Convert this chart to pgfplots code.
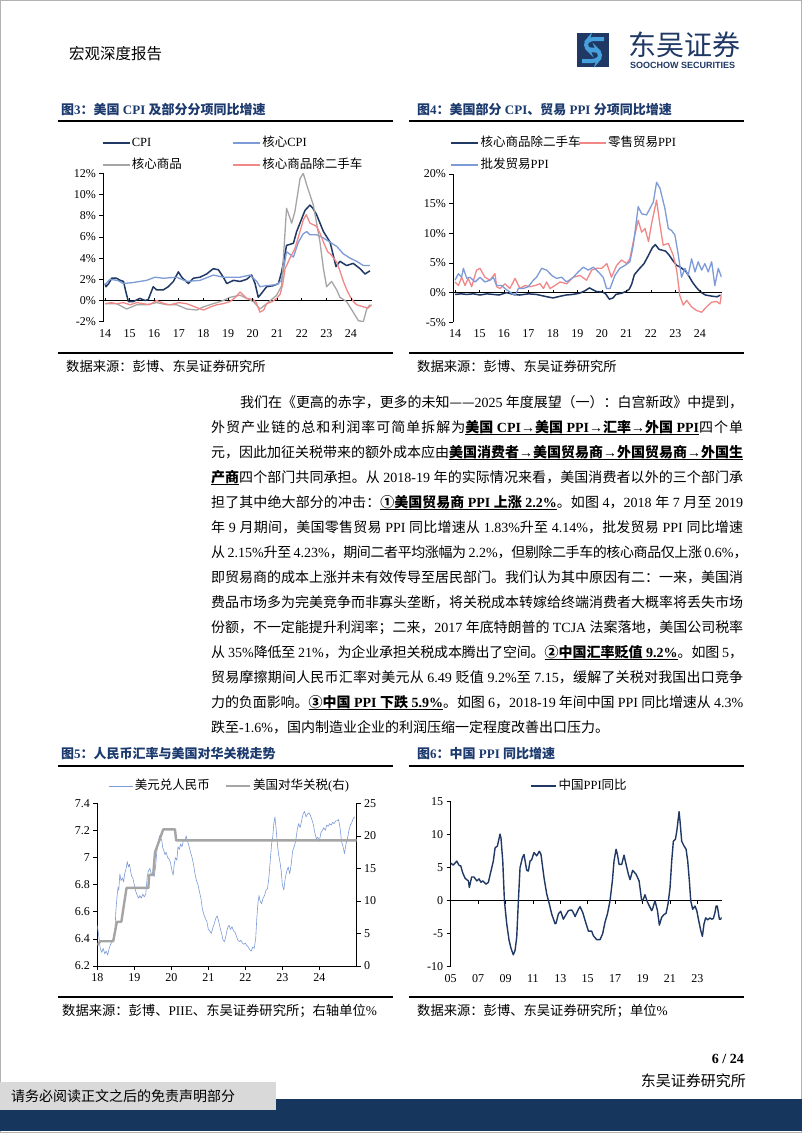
\documentclass[border=0pt]{standalone}
\usepackage{fontspec}
\setmainfont{Liberation Serif}
\newfontfamily\cjk{Noto Sans CJK SC}
\newfontfamily\sansf{Liberation Sans}
\usepackage{pgfplots}
\pgfplotsset{compat=1.18}

% switch CJK characters to the CJK font
\XeTeXinterchartokenstate=1
\newcount\cjkc
\def\cjkrange#1#2{\cjkc=#1\relax\loop\XeTeXcharclass\cjkc=7\relax\ifnum\cjkc<#2\relax\advance\cjkc by 1\relax\repeat}
\cjkrange{"2E80}{"9FFF}
\cjkrange{"FF00}{"FFEF}
\cjkrange{"2460}{"24FF}
\XeTeXcharclass"2014=7
\def\cjkglue{\hskip0pt plus 1.5pt minus 0.4pt\relax}
\XeTeXinterchartoks 0 7 = {\begingroup\cjk}
\XeTeXinterchartoks 1 7 = {\begingroup\cjk}
\XeTeXinterchartoks 2 7 = {\begingroup\cjk}
\XeTeXinterchartoks 3 7 = {\begingroup\cjk}
\XeTeXinterchartoks 4095 7 = {\begingroup\cjk}
\XeTeXinterchartoks 7 0 = {\endgroup}
\XeTeXinterchartoks 7 1 = {\endgroup}
\XeTeXinterchartoks 7 2 = {\endgroup}
\XeTeXinterchartoks 7 3 = {\endgroup}
\XeTeXinterchartoks 7 4095 = {\endgroup}
\XeTeXinterchartoks 7 7 = {\cjkglue}

\newcommand\fs[1]{\fontsize{#1}{#1}\selectfont}
\newcommand\ul[1]{\leavevmode\setbox0\hbox{#1}\rlap{\raisebox{-2.8pt}{\rule{\wd0}{0.9pt}}}\box0}
\newcommand\bl[4]{\node[anchor=base west,inner sep=0pt,font=\fs{14}] at (#1,-#2) {\hbox to #3pt{#4}};}

\definecolor{navy}{RGB}{31,56,100}
\definecolor{ltblue}{RGB}{125,155,215}
\definecolor{midgray}{RGB}{165,165,165}
\definecolor{pinkl}{RGB}{242,135,135}
\definecolor{titleblue}{RGB}{28,58,110}
\definecolor{barnavy}{RGB}{23,54,93}
\definecolor{boxgray}{RGB}{217,217,217}
\definecolor{logoblue}{RGB}{70,160,220}

\pgfplotsset{
  pg/.style={scale only axis, anchor=south west,
    axis line style={line width=0.8pt}, tick style={black, line width=0.7pt},
    tick align=outside, major tick length=4pt, no markers,
    every axis plot/.append style={line join=round},
    tick label style={font=\fs{12}},
    /pgf/number format/assume math mode=true,
    major grid style={black, line width=0.8pt},
    legend cell align=left,
    legend style={draw=none, fill=none, font=\fs{12.5}, anchor=north west,
      inner sep=0pt, row sep=6.5pt,
      nodes={text height=10pt, text depth=2.5pt, inner sep=1.5pt}},
    legend image code/.code={\draw[##1] (0pt,0pt) -- (27pt,0pt);}},
}

\begin{document}
\begin{tikzpicture}
\begin{scope}[x=1pt,y=1pt]
\fill[white] (0,0) rectangle (802,-1133);
\draw[gray!60, line width=1pt] (0.5,-0.5) rectangle (801.5,-1132.5);

% header
\node[anchor=base west,inner sep=0pt,font=\fs{15.5}] at (69,-59) {宏观深度报告};
\fill[navy] (577,-33) rectangle (609,-67);
\draw[logoblue, line width=4pt, rounded corners=5pt] (604,-39) -- (589,-39) -- (584,-45) -- (590,-51) -- (597,-50);
\draw[logoblue, line width=4pt, rounded corners=5pt] (582,-61) -- (597,-61) -- (602,-55) -- (596,-49) -- (589,-50);
\node[anchor=base west,inner sep=0pt,font=\fs{28},text=navy] at (628,-55) {东吴证券};
\node[anchor=base west,inner sep=0pt,font=\sansf\bfseries\fs{9},text=navy] at (630,-68) {SOOCHOW SECURITIES};

% figure titles and rules
\node[anchor=base west,inner sep=0pt,font=\bfseries\fs{13},text=titleblue] at (61,-114) {图3：美国 CPI 及部分分项同比增速};
\node[anchor=base west,inner sep=0pt,font=\bfseries\fs{13},text=titleblue] at (417,-114) {图4：美国部分 CPI、贸易 PPI 分项同比增速};
\draw[line width=1.8pt] (58,-121) -- (393,-121);
\draw[line width=1.8pt] (409,-121) -- (744,-121);
\draw[line width=1.2pt] (58,-353) -- (393,-353);
\draw[line width=1.2pt] (409,-353) -- (744,-353);
\node[anchor=base west,inner sep=0pt,font=\fs{13.3}] at (66,-371.5) {数据来源：彭博、东吴证券研究所};
\node[anchor=base west,inner sep=0pt,font=\fs{13.3}] at (417,-371.5) {数据来源：彭博、东吴证券研究所};

\node[anchor=base west,inner sep=0pt,font=\bfseries\fs{13},text=titleblue] at (61,-758) {图5：人民币汇率与美国对华关税走势};
\node[anchor=base west,inner sep=0pt,font=\bfseries\fs{13},text=titleblue] at (417,-758) {图6：中国 PPI 同比增速};
\draw[line width=1.8pt] (58,-766) -- (393,-766);
\draw[line width=1.8pt] (409,-766) -- (744,-766);
\draw[line width=1.2pt] (58,-997) -- (393,-997);
\draw[line width=1.2pt] (409,-997) -- (744,-997);
\node[anchor=base west,inner sep=0pt,font=\fs{13.3}] at (62,-1015.5) {数据来源：彭博、PIIE、东吴证券研究所；右轴单位\%};
\node[anchor=base west,inner sep=0pt,font=\fs{13.3}] at (417,-1015.5) {数据来源：彭博、东吴证券研究所；单位\%};

% body text
\bl{240}{407.3}{503}{我们在《更高的赤字，更多的未知——2025 年度展望（一）：白宫新政》中提到，}
\bl{211}{432.3}{532}{外贸产业链的总和利润率可简单拆解为\ul{\bfseries 美国 CPI→美国 PPI→汇率→外国 PPI}四个单}
\bl{211}{457.3}{532}{元，因此加征关税带来的额外成本应由\ul{\bfseries 美国消费者→美国贸易商→外国贸易商→外国生}}
\bl{211}{482.3}{532}{\ul{\bfseries 产商}四个部门共同承担。从 2018-19 年的实际情况来看，美国消费者以外的三个部门承}
\bl{211}{507.3}{532}{担了其中绝大部分的冲击：\ul{\bfseries ①美国贸易商 PPI 上涨 2.2\%}。如图 4，2018 年 7 月至 2019}
\bl{211}{532.3}{532}{年 9 月期间，美国零售贸易 PPI 同比增速从 1.83\%升至 4.14\%，批发贸易 PPI 同比增速}
\bl{211}{557.3}{532}{从 2.15\%升至 4.23\%，期间二者平均涨幅为 2.2\%，但剔除二手车的核心商品仅上涨 0.6\%，}
\bl{211}{582.3}{532}{即贸易商的成本上涨并未有效传导至居民部门。我们认为其中原因有二：一来，美国消}
\bl{211}{607.3}{532}{费品市场多为完美竞争而非寡头垄断，将关税成本转嫁给终端消费者大概率将丢失市场}
\bl{211}{632.3}{532}{份额，不一定能提升利润率；二来，2017 年底特朗普的 TCJA 法案落地，美国公司税率}
\bl{211}{657.3}{532}{从 35\%降低至 21\%，为企业承担关税成本腾出了空间。\ul{\bfseries ②中国汇率贬值 9.2\%}。如图 5，}
\bl{211}{682.3}{532}{贸易摩擦期间人民币汇率对美元从 6.49 贬值 9.2\%至 7.15，缓解了关税对我国出口竞争}
\bl{211}{707.3}{532}{力的负面影响。\ul{\bfseries ③中国 PPI 下跌 5.9\%}。如图 6，2018-19 年间中国 PPI 同比增速从 4.3\%}
\node[anchor=base west,inner sep=0pt,font=\fs{14}] at (211,-732.3) {跌至-1.6\%，国内制造业企业的利润压缩一定程度改善出口压力。};

% footer
\node[anchor=base east,inner sep=0pt,font=\bfseries\fs{14}] at (744,-1063) {6 / 24};
\node[anchor=base east,inner sep=0pt,font=\fs{15}] at (746,-1086) {东吴证券研究所};
\fill[barnavy] (0,-1099) rectangle (802,-1131);
\fill[boxgray] (0,-1082) rectangle (276,-1110);
\node[anchor=base west,inner sep=0pt,font=\fs{14}] at (11,-1101.5) {请务必阅读正文之后的免责声明部分};
\end{scope}

% ---------- Figure 3 ----------
\begin{axis}[pg, at={(103.3pt,-321.7pt)}, width=268.6pt, height=148.4pt,
  xmin=2013.93, xmax=2024.85, ymin=-2, ymax=12,
  axis y line*=left, axis x line*=bottom, x axis line style={draw=none},
  xtick={2014,2015,2016,2017,2018,2019,2020,2021,2022,2023,2024},
  xticklabels={14,15,16,17,18,19,20,21,22,23,24}, x tick style={draw=none},
  ytick={-2,0,2,4,6,8,10,12}, yticklabels={-2\%,0\%,2\%,4\%,6\%,8\%,10\%,12\%},
  extra y ticks={0}, extra y tick labels={}, extra y tick style={grid=major},
  legend columns=2, legend style={at={(-0.0067,1.2595)}},
  legend image code/.code={\draw[#1, line width=1.6pt] (0pt,0pt) -- (27pt,0pt);}]
\addplot[navy, line width=1.5pt] coordinates {
 (2014.00,1.6) (2014.04,1.3) (2014.15,1.6) (2014.27,2.1) (2014.47,2.1) (2014.62,1.9) (2014.75,1.8)
 (2014.85,0.8) (2014.95,-0.1) (2015.15,-0.1) (2015.42,0.2) (2015.63,0.0) (2015.76,0.1) (2015.96,1.3)
 (2016.10,1.0) (2016.37,1.0) (2016.57,1.3) (2016.78,1.8) (2016.98,2.7) (2017.12,2.2) (2017.39,1.6)
 (2017.59,2.1) (2017.86,2.2) (2018.13,2.5) (2018.40,3.0) (2018.61,2.9) (2018.81,2.2) (2018.95,1.6)
 (2019.22,1.9) (2019.49,1.8) (2019.76,2.0) (2019.96,2.4) (2020.10,1.6) (2020.23,0.3) (2020.37,0.7)
 (2020.57,1.3) (2020.84,1.4) (2021.05,1.6) (2021.18,2.7) (2021.38,5.2) (2021.66,5.4) (2021.79,6.5)
 (2022.13,8.5) (2022.33,9.0) (2022.45,8.7) (2022.60,8.1) (2022.88,6.5) (2023.15,5.5) (2023.39,3.2)
 (2023.55,3.7) (2023.82,3.3) (2024.09,3.5) (2024.37,3.0) (2024.57,2.5) (2024.77,2.8)};
\addlegendentry{\makebox[99pt][l]{CPI}}
\addplot[ltblue, line width=1.3pt] coordinates {
 (2014.00,1.5) (2014.20,2.0) (2014.50,1.9) (2014.75,1.6) (2015.15,1.7) (2015.69,1.9) (2016.03,2.2)
 (2016.37,2.1) (2016.91,2.2) (2017.32,1.8) (2017.86,1.9) (2018.40,2.4) (2018.81,2.2) (2019.49,2.2)
 (2019.89,2.4) (2020.17,1.8) (2020.30,1.3) (2020.57,1.4) (2020.98,1.5) (2021.18,1.9) (2021.38,4.6)
 (2021.66,4.1) (2021.86,5.5) (2022.06,6.3) (2022.20,6.5) (2022.33,6.2) (2022.60,6.2) (2022.88,5.9)
 (2023.15,5.5) (2023.42,5.1) (2023.69,4.4) (2023.96,4.0) (2024.23,3.7) (2024.50,3.3) (2024.77,3.3)};
\addlegendentry{核心CPI}
\addplot[midgray, line width=1.3pt] coordinates {
 (2014.00,-0.3) (2014.47,-0.3) (2014.88,-0.8) (2015.29,-0.4) (2015.69,-0.4) (2016.10,-0.2) (2016.51,-0.4)
 (2016.91,-0.4) (2017.32,-0.8) (2017.73,-0.9) (2018.00,-0.6) (2018.40,-0.3) (2018.81,0.0) (2019.08,0.3)
 (2019.49,0.5) (2019.76,0.2) (2020.03,-0.1) (2020.30,-0.8) (2020.57,-0.3) (2020.98,0.5) (2021.18,1.4)
 (2021.38,8.7) (2021.59,7.3) (2021.72,8.4) (2021.93,11.5) (2022.06,12.0) (2022.20,10.9) (2022.47,9.0)
 (2022.74,5.5) (2022.88,3.0) (2023.01,1.3) (2023.21,1.8) (2023.42,1.0) (2023.55,0.3) (2023.82,-0.1)
 (2024.09,-1.1) (2024.30,-1.9) (2024.50,-2.0) (2024.64,-0.8) (2024.77,-0.4)};
\addlegendentry{核心商品}
\addplot[pinkl, line width=1.3pt] coordinates {
 (2014.00,-0.3) (2014.25,-0.2) (2014.47,-0.3) (2014.75,-0.2) (2015.02,-0.4) (2015.30,-0.2) (2015.56,-0.3)
 (2015.80,-0.4) (2016.10,0.0) (2016.40,-0.3) (2016.64,-0.4) (2017.00,-0.2) (2017.32,-0.3) (2017.65,-0.6)
 (2018.00,-0.9) (2018.30,-0.6) (2018.54,-0.4) (2018.80,-0.3) (2019.08,-0.1) (2019.30,0.3) (2019.49,0.8)
 (2019.76,0.2) (2020.03,0.1) (2020.15,-0.2) (2020.30,-1.1) (2020.45,-0.9) (2020.57,-0.3) (2020.80,-0.1)
 (2020.98,0.2) (2021.12,0.6) (2021.22,1.5) (2021.32,3.0) (2021.52,4.0) (2021.72,4.9) (2021.90,6.3)
 (2022.06,7.6) (2022.18,8.1) (2022.33,7.3) (2022.60,7.0) (2022.75,6.3) (2022.88,5.5) (2023.05,4.6)
 (2023.20,4.3) (2023.42,3.6) (2023.55,2.8) (2023.69,1.8) (2023.85,0.9) (2023.96,0.4) (2024.10,-0.1)
 (2024.23,-0.4) (2024.50,-0.6) (2024.70,-0.7) (2024.84,-0.4)};
\addlegendentry{核心商品除二手车}
\pgfplotsinvokeforeach{2014,2015,2016,2017,2018,2019,2020,2021,2022,2023,2024}{
  \draw[line width=0.7pt] (axis cs:#1,0) -- (axis cs:#1,0.28);}
\end{axis}

% ---------- Figure 4 ----------
\begin{axis}[pg, at={(453.3pt,-322.3pt)}, width=268.4pt, height=148.3pt,
  xmin=2013.93, xmax=2024.89, ymin=-5, ymax=20,
  axis y line*=left, axis x line*=bottom, x axis line style={draw=none},
  xtick={2014,2015,2016,2017,2018,2019,2020,2021,2022,2023,2024},
  xticklabels={14,15,16,17,18,19,20,21,22,23,24}, x tick style={draw=none},
  ytick={-5,0,5,10,15,20}, yticklabels={-5\%,0\%,5\%,10\%,15\%,20\%},
  extra y ticks={0}, extra y tick labels={}, extra y tick style={grid=major},
  legend columns=2, legend style={at={(-0.0104,1.263)}}]
\addplot[navy, line width=1.5pt] coordinates {
 (2014.00,-0.3) (2014.25,-0.2) (2014.47,-0.3) (2014.75,-0.2) (2015.02,-0.4) (2015.30,-0.2) (2015.56,-0.3)
 (2015.80,-0.4) (2016.10,0.0) (2016.40,-0.3) (2016.64,-0.4) (2017.00,-0.2) (2017.32,-0.3) (2017.65,-0.6)
 (2018.00,-0.9) (2018.30,-0.6) (2018.54,-0.4) (2018.80,-0.3) (2019.08,-0.1) (2019.30,0.3) (2019.49,0.8)
 (2019.76,0.2) (2020.03,0.1) (2020.15,-0.2) (2020.30,-1.1) (2020.45,-0.9) (2020.57,-0.3) (2020.80,-0.1)
 (2020.98,0.2) (2021.12,0.6) (2021.22,1.5) (2021.32,3.0) (2021.52,4.0) (2021.72,4.9) (2021.90,6.3)
 (2022.06,7.6) (2022.18,8.1) (2022.33,7.3) (2022.60,7.0) (2022.75,6.3) (2022.88,5.5) (2023.05,4.6)
 (2023.20,4.3) (2023.42,3.6) (2023.55,2.8) (2023.69,1.8) (2023.85,0.9) (2023.96,0.4) (2024.10,-0.1)
 (2024.23,-0.4) (2024.50,-0.6) (2024.70,-0.7) (2024.84,-0.4)};
\addlegendentry{\makebox[96pt][l]{核心商品除二手车}}
\addplot[pinkl, line width=1.3pt] coordinates {
 (2014.00,1.8) (2014.14,1.2) (2014.27,2.6) (2014.41,1.2) (2014.54,2.4) (2014.68,1.0) (2014.88,3.8)
 (2015.02,4.1) (2015.22,2.6) (2015.43,2.1) (2015.63,3.2) (2015.70,1.0) (2015.84,0.7) (2016.04,1.5)
 (2016.24,0.7) (2016.45,2.4) (2016.65,0.7) (2016.86,1.2) (2017.06,1.0) (2017.27,1.2) (2017.47,1.5)
 (2017.61,0.7) (2017.74,1.8) (2017.88,0.7) (2018.08,1.2) (2018.29,1.8) (2018.56,1.5) (2018.83,2.6)
 (2019.10,2.9) (2019.37,2.1) (2019.58,3.8) (2019.78,4.1) (2019.99,4.1) (2020.20,4.9) (2020.39,2.6)
 (2020.60,4.6) (2020.80,5.5) (2021.01,4.9) (2021.14,5.7) (2021.28,8.6) (2021.48,12.2) (2021.62,10.2)
 (2021.76,10.8) (2021.90,8.6) (2022.03,11.7) (2022.23,15.6) (2022.37,11.4) (2022.50,8.0) (2022.71,8.3)
 (2022.91,6.3) (2023.05,3.8) (2023.18,-0.5) (2023.32,-2.1) (2023.46,-1.3) (2023.66,-2.4) (2023.86,-3.0)
 (2024.07,-3.3) (2024.27,-2.4) (2024.48,-1.6) (2024.68,-1.5) (2024.82,-1.9) (2024.88,-0.2)};
\addlegendentry{零售贸易PPI}
\addplot[ltblue, line width=1.3pt] coordinates {
 (2014.00,2.1) (2014.14,3.2) (2014.27,2.6) (2014.34,4.1) (2014.48,2.4) (2014.61,2.6) (2014.82,1.8)
 (2015.02,2.6) (2015.22,1.8) (2015.43,2.1) (2015.56,2.6) (2015.70,1.2) (2015.90,1.2) (2016.04,0.7)
 (2016.24,0.1) (2016.45,-0.5) (2016.59,0.7) (2016.79,0.7) (2016.99,1.0) (2017.20,2.1) (2017.33,2.6)
 (2017.54,4.1) (2017.74,3.8) (2017.95,2.9) (2018.15,2.4) (2018.35,2.6) (2018.56,1.8) (2018.83,2.6)
 (2019.03,3.5) (2019.24,4.3) (2019.44,3.8) (2019.65,4.3) (2019.85,3.5) (2020.05,2.6) (2020.19,0.7)
 (2020.33,0.7) (2020.53,2.9) (2020.73,4.1) (2020.94,4.6) (2021.14,5.2) (2021.28,8.0) (2021.48,14.5)
 (2021.62,13.3) (2021.82,13.1) (2021.96,14.2) (2022.10,15.3) (2022.23,18.6) (2022.37,17.6) (2022.57,14.2)
 (2022.71,10.8) (2022.84,10.5) (2022.98,9.7) (2023.12,6.3) (2023.25,2.6) (2023.39,4.1) (2023.52,2.9)
 (2023.66,5.7) (2023.80,3.5) (2023.93,5.2) (2024.07,3.8) (2024.20,4.9) (2024.34,3.5) (2024.48,5.2)
 (2024.61,1.2) (2024.75,4.1) (2024.88,2.6)};
\addlegendentry{批发贸易PPI}
\pgfplotsinvokeforeach{2014,2015,2016,2017,2018,2019,2020,2021,2022,2023,2024}{
  \draw[line width=0.7pt] (axis cs:#1,0) -- (axis cs:#1,0.5);}
\end{axis}

% ---------- Figure 5 ----------
\begin{axis}[pg, at={(97.3pt,-966pt)}, width=259.4pt, height=162.7pt,
  xmin=2018, xmax=2025.01, ymin=6.2, ymax=7.4,
  axis y line*=left, axis x line*=bottom,
  xtick={2018,2019,2020,2021,2022,2023,2024}, xticklabels={18,19,20,21,22,23,24},
  ytick={6.2,6.4,6.6,6.8,7,7.2,7.4}, yticklabels={6.2,6.4,6.6,6.8,7,7.2,7.4}]
\addplot[ltblue, line width=0.6pt] coordinates {
 (2018.00,6.50) (2018.04,6.42) (2018.08,6.33) (2018.12,6.30) (2018.16,6.33) (2018.20,6.29) (2018.24,6.31)
 (2018.28,6.28) (2018.32,6.33) (2018.36,6.36) (2018.40,6.38) (2018.44,6.41) (2018.48,6.48) (2018.50,6.60)
 (2018.53,6.70) (2018.56,6.78) (2018.58,6.76) (2018.61,6.88) (2018.64,6.83) (2018.68,6.85) (2018.71,6.82)
 (2018.74,6.88) (2018.78,6.92) (2018.81,6.97) (2018.84,6.93) (2018.87,6.95) (2018.90,6.90) (2018.93,6.86)
 (2018.96,6.85) (2019.00,6.80) (2019.04,6.75) (2019.08,6.72) (2019.12,6.70) (2019.15,6.72) (2019.19,6.70)
 (2019.23,6.73) (2019.27,6.71) (2019.31,6.73) (2019.35,6.86) (2019.38,6.90) (2019.42,6.92) (2019.46,6.88)
 (2019.50,6.88) (2019.54,6.86) (2019.58,6.95) (2019.61,7.05) (2019.65,7.12) (2019.68,7.16) (2019.71,7.14)
 (2019.74,7.13) (2019.77,7.07) (2019.80,7.05) (2019.83,7.02) (2019.86,7.04) (2019.90,7.00) (2019.94,6.99)
 (2019.98,6.96) (2020.02,6.90) (2020.05,6.87) (2020.08,6.95) (2020.11,7.00) (2020.15,6.98) (2020.18,7.08)
 (2020.22,7.06) (2020.25,7.10) (2020.29,7.08) (2020.33,7.13) (2020.37,7.12) (2020.40,7.16) (2020.44,7.12)
 (2020.48,7.08) (2020.52,7.04) (2020.56,7.00) (2020.60,6.95) (2020.64,6.88) (2020.68,6.83) (2020.72,6.80)
 (2020.76,6.75) (2020.80,6.70) (2020.84,6.62) (2020.88,6.58) (2020.92,6.55) (2020.96,6.53) (2021.00,6.47)
 (2021.04,6.46) (2021.08,6.44) (2021.12,6.48) (2021.16,6.51) (2021.20,6.55) (2021.24,6.57) (2021.28,6.53)
 (2021.32,6.48) (2021.36,6.44) (2021.40,6.39) (2021.44,6.38) (2021.48,6.43) (2021.52,6.48) (2021.56,6.50)
 (2021.60,6.47) (2021.64,6.49) (2021.68,6.46) (2021.72,6.45) (2021.76,6.42) (2021.80,6.39) (2021.84,6.38)
 (2021.88,6.39) (2021.92,6.37) (2021.96,6.36) (2022.00,6.37) (2022.04,6.35) (2022.08,6.34) (2022.12,6.32)
 (2022.16,6.31) (2022.20,6.34) (2022.24,6.33) (2022.28,6.40) (2022.31,6.55) (2022.34,6.66) (2022.37,6.72)
 (2022.40,6.68) (2022.44,6.66) (2022.48,6.70) (2022.52,6.72) (2022.56,6.76) (2022.60,6.77) (2022.64,6.86)
 (2022.68,7.00) (2022.71,7.10) (2022.74,7.15) (2022.77,7.25) (2022.80,7.30) (2022.83,7.22) (2022.86,7.12)
 (2022.90,7.02) (2022.94,6.96) (2022.97,6.90) (2023.00,6.80) (2023.04,6.76) (2023.08,6.85) (2023.12,6.90)
 (2023.16,6.93) (2023.20,6.88) (2023.24,6.95) (2023.28,7.05) (2023.32,7.08) (2023.36,7.12) (2023.40,7.20)
 (2023.44,7.25) (2023.48,7.22) (2023.52,7.27) (2023.56,7.32) (2023.60,7.34) (2023.64,7.30) (2023.68,7.32)
 (2023.72,7.33) (2023.76,7.31) (2023.80,7.28) (2023.84,7.24) (2023.88,7.18) (2023.92,7.14) (2023.96,7.15)
 (2024.00,7.12) (2024.04,7.18) (2024.08,7.20) (2024.12,7.22) (2024.16,7.20) (2024.20,7.24) (2024.24,7.23)
 (2024.28,7.25) (2024.32,7.24) (2024.36,7.26) (2024.40,7.25) (2024.44,7.27) (2024.48,7.27) (2024.52,7.28)
 (2024.56,7.22) (2024.60,7.12) (2024.64,7.08) (2024.68,7.03) (2024.72,7.10) (2024.76,7.14) (2024.80,7.20)
 (2024.84,7.24) (2024.88,7.26) (2024.92,7.29) (2024.96,7.30)};
\end{axis}
\begin{axis}[pg, at={(97.3pt,-966pt)}, width=259.4pt, height=162.7pt,
  xmin=2018, xmax=2025.01, ymin=0, ymax=25,
  axis y line*=right, axis x line=none, xtick=\empty,
  ytick={0,5,10,15,20,25}, yticklabels={0,5,10,15,20,25},
  legend columns=2, legend style={at={(0.043,1.1555)}},
  legend image code/.code={\draw[#1] (0pt,0pt) -- (24pt,0pt);}]
\addlegendimage{ltblue, line width=0.6pt}
\addlegendentry{\makebox[89pt][l]{美元兑人民币}}
\addplot[midgray, line width=2.4pt] coordinates {
 (2018.00,3.2) (2018.08,3.8) (2018.43,3.8) (2018.53,6.8) (2018.65,6.8) (2018.79,12.0) (2019.38,12.0)
 (2019.40,14.0) (2019.51,14.0) (2019.56,17.5) (2019.69,19.5) (2019.78,21.0) (2020.10,21.0) (2020.13,19.3)
 (2025.01,19.3)};
\addlegendentry{美国对华关税(右)}
\end{axis}

% ---------- Figure 6 ----------
\begin{axis}[pg, at={(450.7pt,-966.7pt)}, width=271pt, height=165pt,
  xmin=2005, xmax=2024.78, ymin=-10, ymax=15,
  axis y line*=left, axis x line*=bottom, x axis line style={draw=none},
  xtick={2005,2007,2009,2011,2013,2015,2017,2019,2021,2023},
  xticklabels={05,07,09,11,13,15,17,19,21,23}, x tick style={draw=none},
  ytick={-10,-5,0,5,10,15}, yticklabels={-10,-5,0,5,10,15},
  extra y ticks={0}, extra y tick labels={}, extra y tick style={grid=major},
  legend style={at={(0.2945,1.1436)}},
  legend image code/.code={\draw[#1] (0pt,0pt) -- (25pt,0pt);}]
\addplot[navy, line width=1.4pt] coordinates {
 (2005.00,5.7) (2005.19,5.4) (2005.44,6.0) (2005.63,5.3) (2005.73,5.3) (2005.88,4.2) (2006.05,3.4)
 (2006.29,3.0) (2006.36,2.0) (2006.53,3.6) (2006.70,3.6) (2006.90,3.0) (2007.07,3.3) (2007.21,2.8)
 (2007.34,3.0) (2007.58,2.5) (2007.75,2.8) (2007.94,4.5) (2008.11,6.0) (2008.24,8.0) (2008.41,8.3)
 (2008.60,10.1) (2008.67,9.5) (2008.80,6.0) (2008.92,0.0) (2009.09,-3.5) (2009.26,-6.0) (2009.40,-7.2)
 (2009.57,-8.2) (2009.70,-7.5) (2009.82,-5.5) (2009.94,0.0) (2010.06,5.0) (2010.23,6.5) (2010.35,7.0)
 (2010.55,4.6) (2010.67,4.5) (2010.79,6.0) (2010.91,6.2) (2011.08,7.3) (2011.28,6.8) (2011.47,7.5)
 (2011.59,7.0) (2011.81,3.5) (2012.01,1.0) (2012.20,-0.5) (2012.37,-2.0) (2012.62,-3.5) (2012.69,-3.4)
 (2012.86,-2.0) (2013.03,-1.6) (2013.22,-2.8) (2013.39,-2.2) (2013.59,-1.5) (2013.83,-1.4) (2013.95,-1.8)
 (2014.08,-2.4) (2014.32,-1.3) (2014.44,-0.9) (2014.64,-1.8) (2014.81,-3.0) (2015.05,-4.6) (2015.29,-4.6)
 (2015.41,-5.3) (2015.66,-5.9) (2015.90,-5.9) (2016.09,-5.0) (2016.27,-3.2) (2016.44,-2.0) (2016.63,0.0)
 (2016.80,3.0) (2016.92,6.0) (2017.07,7.8) (2017.17,7.0) (2017.29,5.5) (2017.48,5.5) (2017.65,6.9)
 (2017.80,5.5) (2017.97,4.0) (2018.09,3.2) (2018.28,4.6) (2018.53,4.0) (2018.75,3.0) (2018.94,0.0)
 (2019.06,0.2) (2019.18,0.9) (2019.36,-0.2) (2019.50,-0.8) (2019.67,-1.5) (2019.74,-1.2) (2019.91,0.0)
 (2020.09,-1.5) (2020.23,-3.7) (2020.40,-2.5) (2020.57,-2.1) (2020.72,-1.9) (2020.86,-0.5) (2021.01,2.0)
 (2021.13,6.0) (2021.25,9.0) (2021.40,9.3) (2021.50,10.5) (2021.67,13.5) (2021.74,12.0) (2021.86,9.0)
 (2022.03,8.3) (2022.18,7.8) (2022.30,6.0) (2022.42,3.0) (2022.52,0.0) (2022.66,-1.3) (2022.83,-0.8)
 (2022.96,-1.5) (2023.10,-3.0) (2023.25,-4.5) (2023.37,-5.4) (2023.49,-3.5) (2023.61,-2.6) (2023.76,-2.9)
 (2023.93,-2.6) (2024.05,-2.8) (2024.17,-2.7) (2024.29,-1.8) (2024.37,-0.8) (2024.46,-0.8) (2024.61,-2.8)
 (2024.71,-2.8) (2024.78,-2.5)};
\addlegendentry{中国PPI同比}
\pgfplotsinvokeforeach{2005,2007,2009,2011,2013,2015,2017,2019,2021,2023}{
  \draw[line width=0.7pt] (axis cs:#1,0) -- (axis cs:#1,-0.45);}
\end{axis}
\end{tikzpicture}
\end{document}
